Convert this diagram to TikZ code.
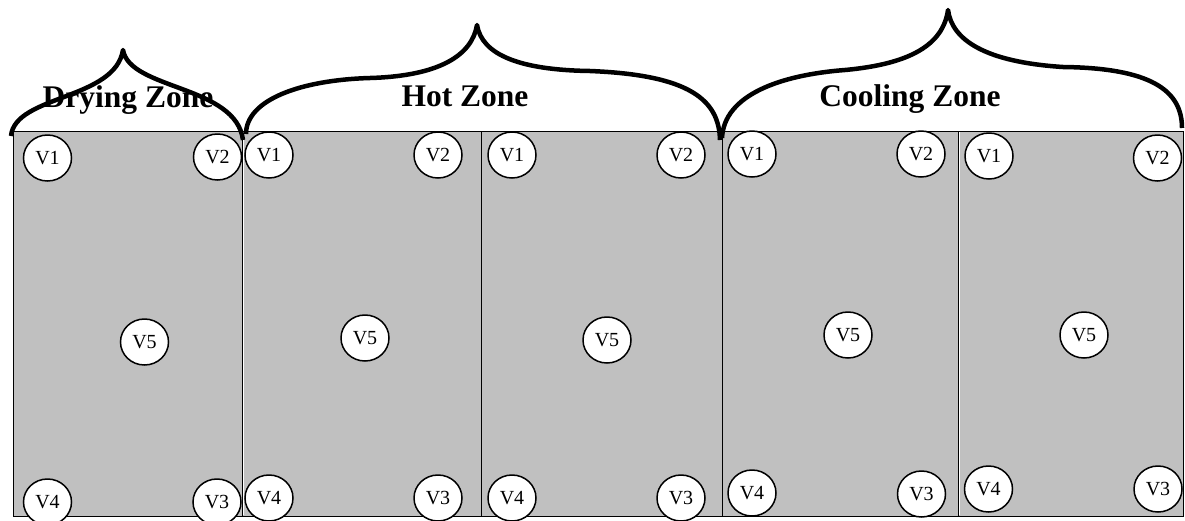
\documentclass[tikz,border=0pt]{standalone}
\usepackage{fontspec}
\setmainfont{Liberation Serif}
\usetikzlibrary{shapes.geometric}
\definecolor{zonegray}{HTML}{C0C0C0}
\newcommand\probetext[1]{\raisebox{-3pt}{#1}}
\tikzset{
  panel/.style={fill=zonegray, draw=black, line width=1pt},
  divider/.style={draw=black, line width=1pt},
  gapline/.style={draw=white, line width=1pt},
  probe/.style={ellipse, draw=black, line width=1.5pt, fill=white,
    minimum width=48pt, minimum height=46pt, inner sep=0pt,
    font=\fontsize{20}{20}\selectfont},
  zonelabel/.style={font=\bfseries\fontsize{31.5}{34}\selectfont,
    inner sep=0pt, anchor=base},
  bracestroke/.style={line width=4.5pt, line join=round, line cap=butt},
}
\begin{document}
\begin{tikzpicture}[x=1pt,y=-1pt]
\useasboundingbox (0,0) rectangle (1185,520);

% kiln body, split into five chambers
\path[panel] (13,131) rectangle (1183,516);
\draw[divider] (242,131) -- (242,516);
\draw[gapline] (243.3,132) -- (243.3,515);
\draw[divider] (481,131) -- (481,516);
\draw[divider] (722,131) -- (722,516);
\draw[divider] (958.5,131) -- (958.5,516);
\draw[gapline] (959.8,132) -- (959.8,515);

% probes: drying chamber
\node[probe] (d1) at (47.5,158) {\probetext{V1}};
\node[probe] (d2) at (217.5,157) {\probetext{V2}};
\node[probe] (d3) at (217,502) {\probetext{V3}};
\node[probe] (d4) at (47.5,502) {\probetext{V4}};
\node[probe] (d5) at (144.5,342) {\probetext{V5}};

% probes: first hot chamber
\node[probe] (ha1) at (269,155) {\probetext{V1}};
\node[probe] (ha2) at (438,155) {\probetext{V2}};
\node[probe] (ha3) at (438,498) {\probetext{V3}};
\node[probe] (ha4) at (269,498) {\probetext{V4}};
\node[probe] (ha5) at (365,338) {\probetext{V5}};

% probes: second hot chamber
\node[probe] (hb1) at (512,155) {\probetext{V1}};
\node[probe] (hb2) at (681,155) {\probetext{V2}};
\node[probe] (hb3) at (681,498) {\probetext{V3}};
\node[probe] (hb4) at (512,498) {\probetext{V4}};
\node[probe] (hb5) at (607,340) {\probetext{V5}};

% probes: first cooling chamber
\node[probe] (ca1) at (752,154) {\probetext{V1}};
\node[probe] (ca2) at (921,154) {\probetext{V2}};
\node[probe] (ca3) at (921.5,494) {\probetext{V3}};
\node[probe] (ca4) at (752,493) {\probetext{V4}};
\node[probe] (ca5) at (848,335) {\probetext{V5}};

% probes: second cooling chamber
\node[probe] (cb1) at (989,156) {\probetext{V1}};
\node[probe] (cb2) at (1157.5,158) {\probetext{V2}};
\node[probe] (cb3) at (1158,489) {\probetext{V3}};
\node[probe] (cb4) at (988.5,489) {\probetext{V4}};
\node[probe] (cb5) at (1084,335) {\probetext{V5}};

% zone titles
\node[zonelabel] (drylabel) at (128,107) {Drying Zone};
\node[zonelabel] (hotlabel) at (465,106) {Hot Zone};
\node[zonelabel] (coollabel) at (910,106) {Cooling Zone};

% curly braces over each zone
\draw[bracestroke] (11,136) .. controls (15,95) and (115,100) .. (123,50)
  .. controls (130,90) and (236,85) .. (243,140);
\draw[bracestroke] (246,134) .. controls (246,100) and (300,80) .. (370,78)
  .. controls (440,76) and (472,55) .. (477,25)
  .. controls (482,55) and (520,70) .. (590,71)
  .. controls (690,75) and (719,100) .. (720,140);
\draw[bracestroke] (722,138) .. controls (724,95) and (780,75) .. (845,70)
  .. controls (910,64) and (943,45) .. (948,10)
  .. controls (952,40) and (985,62) .. (1063,67)
  .. controls (1150,68) and (1182,90) .. (1182,128);
\end{tikzpicture}
\end{document}
